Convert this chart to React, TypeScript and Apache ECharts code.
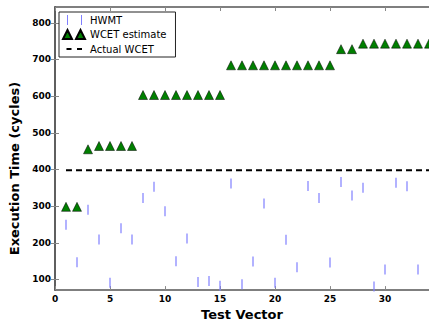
import React, { useEffect, useRef } from "react";
import * as echarts from "echarts";

const hwmtX = [1, 2, 3, 4, 5, 6, 7, 8, 9, 10, 11, 12, 13, 14, 15, 16, 17, 18, 19, 20, 21, 22, 23, 24, 25, 26, 27, 28, 29, 30, 31, 32, 33];
const hwmtY = [249, 147, 290, 209, 91, 240, 209, 322, 353, 286, 150, 212, 93, 96, 83, 362, 87, 149, 307, 91, 208, 133, 355, 322, 146, 366, 329, 350, 81, 127, 364, 354, 127];
const wcetX = [1, 2, 3, 4, 5, 6, 7, 8, 9, 10, 11, 12, 13, 14, 15, 16, 17, 18, 19, 20, 21, 22, 23, 24, 25, 26, 27, 28, 29, 30, 31, 32, 33, 34];
const wcetY = [298, 298, 455, 464, 464, 464, 464, 603, 603, 603, 603, 603, 603, 603, 603, 684, 684, 684, 684, 684, 684, 684, 684, 684, 684, 728, 728, 743, 743, 743, 743, 743, 743, 743];
const actualX = [1, 34];
const actualWCET = 398;
const xTicks = [0, 5, 10, 15, 20, 25, 30];
const yTicks = [100, 200, 300, 400, 500, 600, 700, 800];
const xRange = [0, 34];
const yRange = [71, 843];

const FONT = "DejaVu Sans";

export default function App() {
  const ref = useRef<HTMLDivElement>(null);
  useEffect(() => {
    if (!ref.current) return;
    const chart = echarts.init(ref.current, undefined, { renderer: "svg" });
    const spine = { show: true, lineStyle: { color: "#555", width: 1.5 } };
    const tick = { show: true, inside: true, length: 4, lineStyle: { color: "#888", width: 1 } };
    const label = { fontFamily: FONT, fontWeight: "bold" as const, fontSize: 9, color: "#000" };
    chart.setOption({
      animation: false,
      backgroundColor: "#fff",
      grid: { left: 55, top: 7, width: 375, height: 291 },
      legend: {
        left: 59,
        top: 12,
        orient: "vertical",
        padding: [3, 9, 3, 3],
        itemWidth: 22,
        itemHeight: 10,
        itemGap: 4,
        borderColor: "#222",
        borderWidth: 1,
        backgroundColor: "#fff",
        textStyle: { fontFamily: FONT, fontSize: 10, color: "#000" },
        data: [
          { name: "HWMT", icon: "path://M0,0L0,0M4,0h1v10h-1zM18,0h1v10h-1zM22,10L22,10" },
          { name: "WCET estimate", icon: "path://M0,1L0,1M0,10L4.5,1L9,10zM13,10L17.5,1L22,10z" },
          { name: "Actual WCET", icon: "path://M0,0L0,0M3.5,4h5v2h-5zM14,4h5v2h-5zM22,10L22,10" },
        ],
      },
      xAxis: [
        {
          type: "value",
          min: xRange[0],
          max: xRange[1],
          position: "bottom",
          axisLine: spine,
          axisTick: { ...tick, customValues: xTicks },
          axisLabel: { ...label, margin: 4, customValues: xTicks },
          splitLine: { show: false },
          name: "Test Vector",
          nameLocation: "middle",
          nameGap: 13,
          nameTextStyle: { fontFamily: FONT, fontWeight: "bold", fontSize: 13, color: "#000" },
        },
        {
          type: "value",
          min: xRange[0],
          max: xRange[1],
          position: "top",
          axisLine: spine,
          axisTick: { ...tick, customValues: xTicks },
          axisLabel: { show: false },
          splitLine: { show: false },
        },
      ],
      yAxis: [
        {
          type: "value",
          min: yRange[0],
          max: yRange[1],
          position: "left",
          axisLine: spine,
          axisTick: { ...tick, customValues: yTicks },
          axisLabel: { ...label, margin: 4, customValues: yTicks },
          splitLine: { show: false },
          name: "Execution Time (cycles)",
          nameLocation: "middle",
          nameGap: 28,
          nameTextStyle: {
            fontFamily: FONT,
            fontWeight: "bold",
            fontSize: 13,
            color: "#000",
            padding: [0, 40, 0, 0],
          },
        },
        {
          type: "value",
          min: yRange[0],
          max: yRange[1],
          position: "right",
          axisLine: spine,
          axisTick: { ...tick, customValues: yTicks },
          axisLabel: { show: false },
          splitLine: { show: false },
        },
      ],
      series: [
        {
          name: "HWMT",
          type: "scatter",
          symbol: "rect",
          symbolSize: [1.2, 10],
          itemStyle: { color: "#7f7fff", opacity: 1 },
          data: hwmtX.map((x, i) => [x, hwmtY[i]]),
          z: 2,
        },
        {
          name: "WCET estimate",
          type: "scatter",
          symbol: "triangle",
          symbolSize: [9, 9],
          itemStyle: { color: "#007f00", borderColor: "#000", borderWidth: 0.5, opacity: 1 },
          data: wcetX.map((x, i) => [x, wcetY[i]]),
          z: 3,
        },
        {
          name: "Actual WCET",
          type: "line",
          symbol: "none",
          color: "#000",
          lineStyle: { color: "#000", width: 2, type: [6, 4] },
          itemStyle: { color: "#000" },
          data: actualX.map((x) => [x, actualWCET]),
          z: 1,
        },
      ],
    });
    return () => chart.dispose();
  }, []);
  return (
    <div
      ref={ref}
      style={{ position: "fixed", left: 0, top: 0, width: 429, height: 326 }}
    />
  );
}
